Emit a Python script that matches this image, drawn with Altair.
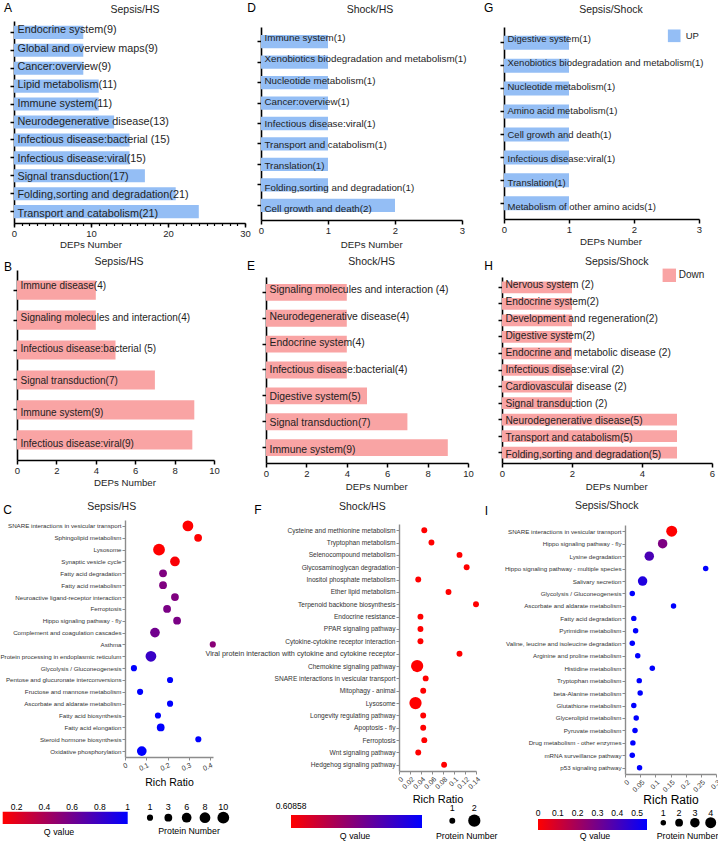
import altair as alt
import pandas as pd

FONT = "Liberation Sans"
BLUE = "#94BEF5"
PINK = "#F9A4A4"
INK = "#1e1e1e"
W, H = 718, 841

# ---------------- data: top row (UP) ----------------
A_cats = ["Endocrine system", "Global and overview maps", "Cancer:overview", "Lipid metabolism",
          "Immune system", "Neurodegenerative disease", "Infectious disease:bacterial",
          "Infectious disease:viral", "Signal transduction", "Folding,sorting and degradation",
          "Transport and catabolism"]
A_text = ["Endocrine system(9)", "Global and overview maps(9)", "Cancer:overview(9)", "Lipid metabolism(11)",
          "Immune system(11)", "Neurodegenerative disease(13)", "Infectious disease:bacterial (15)",
          "Infectious disease:viral(15)", "Signal transduction(17)", "Folding,sorting and degradation(21)",
          "Transport and catabolism(21)"]
A_vals = [9, 9, 9, 11, 11, 13, 15, 15, 17, 21, 24]

D_cats = ["Immune system", "Xenobiotics biodegradation and metabolism", "Nucleotide metabolism",
          "Cancer:overview", "Infectious disease:viral", "Transport and catabolism", "Translation",
          "Folding,sorting and degradation", "Cell growth and death"]
D_text = ["Immune system(1)", "Xenobiotics biodegradation and metabolism(1)", "Nucleotide metabolism(1)",
          "Cancer:overview(1)", "Infectious disease:viral(1)", "Transport and catabolism(1)", "Translation(1)",
          "Folding,sorting and degradation(1)", "Cell growth and death(2)"]
D_vals = [1, 1, 1, 1, 1, 1, 1, 1, 2]

G_cats = ["Digestive system", "Xenobiotics biodegradation and metabolism", "Nucleotide metabolism",
          "Amino acid metabolism", "Cell growth and death", "Infectious disease:viral", "Translation",
          "Metabolism of other amino acids"]
G_text = ["Digestive system(1)", "Xenobiotics biodegradation and metabolism(1)", "Nucleotide metabolism(1)",
          "Amino acid metabolism(1)", "Cell growth and death(1)", "Infectious disease:viral(1)", "Translation(1)",
          "Metabolism of other amino acids(1)"]
G_vals = [1, 1, 1, 1, 1, 1, 1, 1]

# ---------------- data: middle row (Down) ----------------
B_cats = ["Immune disease", "Signaling molecules and interaction", "Infectious disease:bacterial",
          "Signal transduction", "Immune system", "Infectious disease:viral"]
B_text = ["Immune disease(4)", "Signaling molecules and interaction(4)", "Infectious disease:bacterial (5)",
          "Signal transduction(7)", "Immune system(9)", "Infectious disease:viral(9)"]
B_vals = [4, 4, 5, 7, 9, 8.9]

E_cats = ["Signaling molecules and interaction", "Neurodegenerative disease", "Endocrine system",
          "Infectious disease:bacterial", "Digestive system", "Signal transduction", "Immune system"]
E_text = ["Signaling molecules and interaction (4)", "Neurodegenerative disease(4)", "Endocrine system(4)",
          "Infectious disease:bacterial(4)", "Digestive system(5)", "Signal transduction(7)", "Immune system(9)"]
E_vals = [4, 4, 4, 4, 5, 7, 9]

H_cats = ["Nervous system", "Endocrine system", "Development and regeneration", "Digestive system",
          "Endocrine and metabolic disease", "Infectious disease:viral", "Cardiovascular disease",
          "Signal transduction", "Neurodegenerative disease", "Transport and catabolism",
          "Folding,sorting and degradation"]
H_text = ["Nervous system (2)", "Endocrine system(2)", "Development and regeneration(2)", "Digestive system(2)",
          "Endocrine and metabolic disease (2)", "Infectious disease:viral (2)", "Cardiovascular disease (2)",
          "Signal transduction (2)", "Neurodegenerative disease(5)", "Transport and catabolism(5)",
          "Folding,sorting and degradation(5)"]
H_vals = [2, 2, 2, 2, 2, 2, 2, 2, 5, 5, 5]

# ---------------- data: bottom row (enrichment bubbles) ----------------
C_cats = ["SNARE interactions in vesicular transport", "Sphingolipid metabolism", "Lysosome",
          "Synaptic vesicle cycle", "Fatty acid degradation", "Fatty acid metabolism",
          "Neuroactive ligand-receptor interaction", "Ferroptosis", "Hippo signaling pathway - fly",
          "Complement and coagulation cascades", "Asthma", "Protein processing in endoplasmic reticulum",
          "Glycolysis / Gluconeogenesis", "Pentose and glucuronate interconversions",
          "Fructose and mannose metabolism", "Ascorbate and aldarate metabolism", "Fatty acid biosynthesis",
          "Fatty acid elongation", "Steroid hormone biosynthesis", "Oxidative phosphorylation"]
C_rich = [0.296, 0.344, 0.160, 0.235, 0.179, 0.179, 0.235, 0.198, 0.245, 0.141, 0.413, 0.122,
          0.042, 0.212, 0.071, 0.212, 0.155, 0.168, 0.345, 0.079]
C_q = [0.10, 0.10, 0.10, 0.12, 0.55, 0.55, 0.55, 0.57, 0.57, 0.60, 0.52, 0.80,
       1, 1, 1, 1, 1, 1, 1, 1]
C_n = [8, 3, 10, 6, 3, 3, 3, 3, 3, 6, 1, 8, 1, 1, 1, 1, 1, 3, 1, 6]

F_cats = ["Cysteine and methionine metabolism", "Tryptophan metabolism", "Selenocompound metabolism",
          "Glycosaminoglycan degradation", "Inositol phosphate metabolism", "Ether lipid metabolism",
          "Terpenoid backbone biosynthesis", "Endocrine resistance", "PPAR signaling pathway",
          "Cytokine-cytokine receptor interaction",
          "Viral protein interaction with cytokine and cytokine receptor", "Chemokine signaling pathway",
          "SNARE interactions in vesicular transport", "Mitophagy - animal", "Lysosome",
          "Longevity regulating pathway", "Apoptosis - fly", "Ferroptosis", "Wnt signaling pathway",
          "Hedgehog signaling pathway"]
F_rich = [0.046, 0.059, 0.110, 0.123, 0.035, 0.090, 0.140, 0.039, 0.039, 0.039, 0.110, 0.033,
          0.0485, 0.044, 0.030, 0.044, 0.044, 0.046, 0.035, 0.082]
F_q = [0.60858] * 20
F_n = [1, 1, 1, 1, 1, 1, 1, 1, 1, 1, 1, 2, 1, 1, 2, 1, 1, 1, 1, 1]

I_cats = ["SNARE interactions in vesicular transport", "Hippo signaling pathway - fly", "Lysine degradation",
          "Hippo signaling pathway - multiple species", "Salivary secretion", "Glycolysis / Gluconeogenesis",
          "Ascorbate and aldarate metabolism", "Fatty acid degradation", "Pyrimidine metabolism",
          "Valine, leucine and isoleucine degradation", "Arginine and proline metabolism",
          "Histidine metabolism", "Tryptophan metabolism", "beta-Alanine metabolism",
          "Glutathione metabolism", "Glycerolipid metabolism", "Pyruvate metabolism",
          "Drug metabolism - other enzymes", "mRNA surveillance pathway", "p53 signaling pathway"]
I_rich = [0.154, 0.124, 0.080, 0.266, 0.058, 0.024, 0.160, 0.029, 0.035, 0.024, 0.042, 0.090,
          0.047, 0.050, 0.029, 0.037, 0.033, 0.026, 0.024, 0.048]
I_q = [0.0, 0.28, 0.39, 0.55, 0.48, 0.55, 0.55, 0.55, 0.55, 0.55, 0.55, 0.55,
       0.55, 0.55, 0.55, 0.55, 0.55, 0.55, 0.55, 0.55]
I_n = [4, 3, 3, 1, 3, 1, 1, 1, 1, 1, 1, 1, 1, 1, 1, 1, 1, 1, 1, 1]

# legend contents
C_q_domain = [0.1, 1.0]
C_q_ticks = [0.2, 0.4, 0.6, 0.8, 1.0]
F_q_domain = [0.60858, 1.0]
F_q_ticks = [0.60858]
I_q_domain = [0.0, 0.55]
I_q_ticks = [0.0, 0.1, 0.2, 0.3, 0.4, 0.5]
C_legend_sizes = [1, 3, 6, 8, 10]
F_legend_sizes = [1, 2]
I_legend_sizes = [1, 2, 3, 4]

RED_BLUE = alt.LinearGradient(
    gradient="linear",
    stops=[alt.GradientStop(color="#ff0000", offset=0), alt.GradientStop(color="#0000ff", offset=1)],
    x1=0, x2=1, y1=0, y2=0)

layers = []


def annot(text, x, y, size, color=INK, align="center"):
    layers.append(alt.Chart(pd.DataFrame({"t": [text]})).mark_text(
        fontSize=size, align=align, baseline="middle", color=color
    ).encode(x=alt.value(x), y=alt.value(y), text="t:N"))


def bar_panel(cats, texts, vals, color, xmax, xticks, box, p_in, p_out, fs, minor=None, legend=None):
    x0, x1, y0, y1 = box
    df = pd.DataFrame({"cat": cats, "txt": texts, "val": vals})
    ys = alt.Scale(domain=cats, range=[y0, y1], paddingInner=p_in, paddingOuter=p_out)
    xs = alt.Scale(domain=[0, xmax], range=[x0, x1], nice=False, zero=True)
    yax = alt.Axis(orient="left", offset=-x0, labels=False, title=None, domainColor="black",
                   domainWidth=1.6, tickColor="black", tickWidth=1.5, tickSize=4, grid=False)
    xax = alt.Axis(orient="bottom", offset=y1 - H, values=xticks, title=None,
                   labelFontSize=9.5, labelColor=INK, labelFlush=False, labelPadding=1,
                   domainColor="black", domainWidth=1.6, tickColor="black",
                   tickWidth=1.5, tickSize=4, grid=False)
    if legend is not None:
        name, lgx, lgy, ssize, loff, lfs = legend
        df["dir"] = name
        cenc = alt.Color("dir:N", scale=alt.Scale(domain=[name], range=[color]),
                         legend=alt.Legend(orient="none", legendX=lgx, legendY=lgy, title=None,
                                           symbolType="square", symbolSize=ssize, symbolStrokeWidth=0,
                                           symbolOpacity=1, labelOffset=loff, labelFontSize=lfs,
                                           labelColor=INK, padding=0))
    else:
        cenc = alt.value(color)
    layers.append(alt.Chart(df).mark_bar().encode(
        y=alt.Y("cat:N", scale=ys, axis=yax), x=alt.X("val:Q", scale=xs, axis=xax), color=cenc))
    layers.append(alt.Chart(df).mark_text(align="left", baseline="middle", dx=3.5, fontSize=fs,
                                          color=INK).encode(
        y=alt.Y("cat:N", scale=ys, axis=None), x=alt.XDatum(0, scale=xs, axis=None), text="txt:N"))
    if minor is not None:
        layers.append(alt.Chart(df).mark_point(opacity=0).encode(
            y=alt.Y("cat:N", scale=ys, axis=None),
            x=alt.X("val:Q", scale=xs,
                    axis=alt.Axis(orient="bottom", offset=y1 - H, values=minor, labels=False, domain=False,
                                  title=None, tickColor="black", tickWidth=1.2, tickSize=2.5, grid=False))))


def bubble_panel(cats, rich, q, n, xmax, xticks, box, angle, yfs, cdom, sdom, srange, rr_fs, rr_pad,
                 big_label=None):
    x0, x1, y0, y1 = box
    df = pd.DataFrame({"cat": cats, "rich": rich, "q": q, "n": n})
    if big_label is not None:
        lfs = {"condition": {"test": "datum.value === '%s'" % big_label[0], "value": big_label[1]},
               "value": yfs}
    else:
        lfs = yfs
    layers.append(alt.Chart(df).mark_circle(opacity=1).encode(
        y=alt.Y("cat:N", scale=alt.Scale(type="point", domain=cats, range=[y0, y1], padding=0.5),
                axis=alt.Axis(orient="left", offset=-x0, title=None, labelFontSize=lfs, labelColor="#333333",
                              labelLimit=400, domainColor="#8c8c8c", domainWidth=1.4, tickColor="#8c8c8c",
                              tickSize=3, tickWidth=1, labelPadding=1, grid=False)),
        x=alt.X("rich:Q", scale=alt.Scale(domain=[0, xmax], range=[x0, x1], nice=False),
                axis=alt.Axis(orient="bottom", offset=y1 - H, values=xticks, format="~g", labelAngle=angle,
                              labelFontSize=7, labelColor="#333333", labelFlush=False, labelOverlap=False,
                              title="Rich Ratio", titleFontSize=rr_fs, titleFontWeight="normal",
                              titleColor="black", titlePadding=rr_pad, domainColor="#8c8c8c",
                              domainWidth=1.4, tickColor="#8c8c8c", tickSize=3, labelPadding=1,
                              grid=False)),
        color=alt.Color("q:Q",
                        scale=alt.Scale(domain=cdom, range=["#ff0000", "#0000ff"], interpolate="rgb"),
                        legend=None),
        size=alt.Size("n:Q", scale=alt.Scale(domain=sdom, range=srange), legend=None),
    ))


def grad_legend(dom, ticks, fmt, xr, yr, label_y):
    xs = alt.Scale(domain=dom, range=xr, nice=False, zero=False)
    gdf = pd.DataFrame({"lo": [dom[0]], "hi": [dom[1]]})
    layers.append(alt.Chart(gdf).mark_rect(color=RED_BLUE).encode(
        x=alt.X("lo:Q", scale=xs, axis=None), x2="hi:Q", y=alt.value(yr[0]), y2=alt.value(yr[1])))
    tdf = pd.DataFrame({"v": ticks})
    layers.append(alt.Chart(tdf).mark_text(fontSize=8.5, color="black", baseline="middle").encode(
        x=alt.X("v:Q", scale=xs, axis=None), y=alt.value(label_y), text=alt.Text("v:Q", format=fmt)))


def size_legend(vals, sdom, srange, xr, circ_y, label_y):
    df = pd.DataFrame({"v": vals})
    xs = alt.Scale(type="point", domain=vals, range=xr, padding=0)
    layers.append(alt.Chart(df).mark_circle(color="black", opacity=1).encode(
        x=alt.X("v:O", scale=xs, axis=None), y=alt.value(circ_y),
        size=alt.Size("v:Q", scale=alt.Scale(domain=sdom, range=srange), legend=None)))
    layers.append(alt.Chart(df).mark_text(fontSize=9, color="black", baseline="middle").encode(
        x=alt.X("v:O", scale=xs, axis=None), y=alt.value(label_y), text="v:N"))


# ---------------- panels ----------------
bar_panel(A_cats, A_text, A_vals, BLUE, 30, [0, 10, 20, 30], (14, 245, 21, 223), 0.27, 0.27, 10.8,
          minor=list(range(0, 31)))
bar_panel(D_cats, D_text, D_vals, BLUE, 3, [0, 1, 2, 3], (261, 462, 27, 220), 0.35, 0.39, 9.8)
bar_panel(G_cats, G_text, G_vals, BLUE, 3, [0, 1, 2, 3], (504, 699, 27, 219), 0.39, 0.38, 9.5,
          legend=("UP", 667.7, 29.3, 160, 5, 9.5))
bar_panel(B_cats, B_text, B_vals, PINK, 10, [0, 2, 4, 6, 8, 10], (17, 214, 270, 460), 0.36, 0.35, 10)
bar_panel(E_cats, E_text, E_vals, PINK, 10, [0, 2, 4, 6, 8, 10], (266, 468, 277, 463), 0.35, 0.27, 10.4)
bar_panel(H_cats, H_text, H_vals, PINK, 6, [0, 2, 4, 6], (502, 712, 277, 463), 0.29, 0.27, 10.2,
          legend=("Down", 662.3, 268.3, 180, 2.5, 10))

bubble_panel(C_cats, C_rich, C_q, C_n, 0.414, [0, 0.1, 0.2, 0.3, 0.4], (125, 213, 520, 757), -25, 6.2,
             C_q_domain, [1, 10], [38, 139], 10.5, 6)
bubble_panel(F_cats, F_rich, F_q, F_n, 0.14, [0, 0.02, 0.04, 0.06, 0.08, 0.1, 0.12, 0.14],
             (399, 476, 524, 771), -45, 6.6, F_q_domain, [1, 2], [35, 150], 11, 4,
             big_label=("Viral protein interaction with cytokine and cytokine receptor", 7.3))
bubble_panel(I_cats, I_rich, I_q, I_n, 0.3, [0, 0.05, 0.1, 0.15, 0.2, 0.25, 0.3],
             (625, 716, 525, 774), -45, 6.2, I_q_domain, [1, 4], [30, 120], 12, 2)

grad_legend(C_q_domain, C_q_ticks, "~g", [2.7, 127.7], [811.7, 824], 806.7)
grad_legend(F_q_domain, F_q_ticks, ".5f", [291, 422], [815, 828], 806)
grad_legend(I_q_domain, I_q_ticks, "~g", [538, 647], [819, 830], 813.3)

size_legend(C_legend_sizes, [1, 10], [38, 139], [150, 223.3], 817.7, 806.7)
size_legend(F_legend_sizes, [1, 2], [35, 150], [452.3, 474.3], 820.7, 808.3)
size_legend(I_legend_sizes, [1, 4], [30, 120], [663.3, 710.7], 822.7, 813.3)

# ---------------- titles, panel letters, axis and legend titles ----------------
for t, x, y in [("Sepsis/HS", 135, 10), ("Shock/HS", 370, 10), ("Sepsis/Shock", 611, 10),
                ("Sepsis/HS", 119, 261.7), ("Shock/HS", 371.7, 261.7), ("Sepsis/Shock", 616.7, 261.7),
                ("Sepsis/HS", 111.7, 506.7), ("Shock/HS", 362.3, 506.7), ("Sepsis/Shock", 606.7, 505.7)]:
    annot(t, x, y, 10.5)
for t, x, y in [("A", 8, 8), ("D", 251.5, 7.5), ("G", 488.7, 8), ("B", 8, 267), ("E", 251, 266),
                ("H", 488.5, 266), ("C", 7.5, 510), ("F", 258, 510), ("I", 486.5, 511)]:
    annot(t, x, y, 12, color="black")
for x, y in [(91, 245), (371.7, 245), (611, 242.3), (125, 483.3), (376.7, 486.7), (616.7, 486.7)]:
    annot("DEPs Number", x, y, 9.7)
for t, x, y in [("Q value", 59, 832), ("Q value", 355, 836), ("Q value", 595, 836),
                ("Protein Number", 189, 831), ("Protein Number", 466.7, 836), ("Protein Number", 687.5, 836)]:
    annot(t, x, y, 8.8, color="black")

chart = alt.layer(*layers).resolve_scale(
    x="independent", y="independent", color="independent", size="independent"
).properties(width=W, height=H, padding=0, autosize=alt.AutoSizeParams(type="none"))
chart = chart.configure(font=FONT, background="white").configure_view(stroke=None)
chart.save("out.html", embed_options={"renderer": "svg", "actions": False})
